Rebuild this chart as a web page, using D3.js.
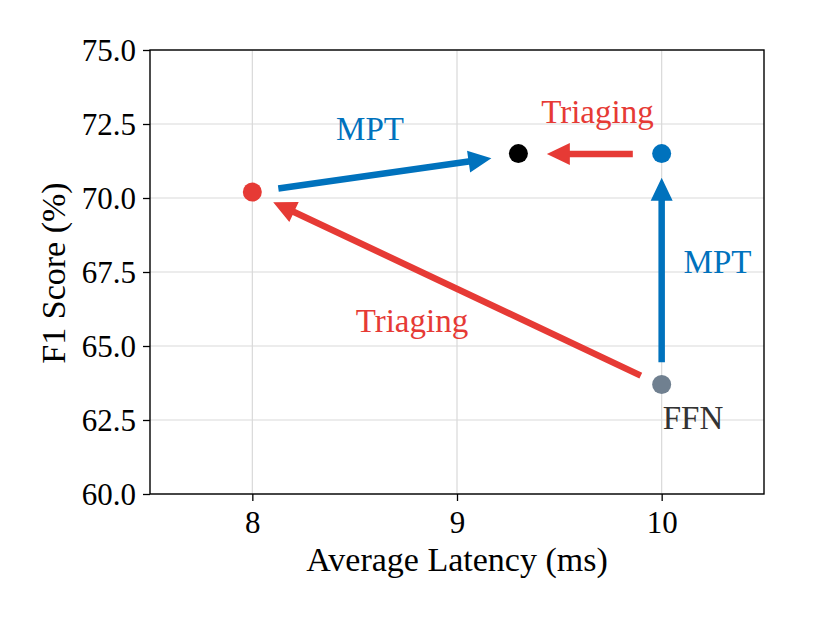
<!DOCTYPE html>
<html>
<head>
<meta charset="utf-8">
<script src="https://cdn.jsdelivr.net/npm/d3@7"></script>
<style>
html,body{margin:0;padding:0;background:#fff;}
svg text{font-family:"Liberation Serif","Times New Roman",serif !important;}
</style>
</head>
<body>
<svg id="chart" width="830" height="623"></svg>
<script>
// ---- data ----
const xTicks = [8, 9, 10];
const yTicks = [60.0, 62.5, 65.0, 67.5, 70.0, 72.5, 75.0];
const pointNames = ["FFN", "MPT", "Triaging", "Both"];
const pointX = [10.0, 10.0, 8.0, 9.3];
const pointY = [63.7, 71.5, 70.2, 71.5];
const pointColors = ["#708090", "#0072bd", "#e63a35", "#000000"];
// arrows
const arrowNames = ["MPT (Triaging)", "Triaging (MPT)", "MPT (FFN)", "Triaging (FFN)"];
const arrowFrom = [[8.127, 70.32], [9.859, 71.49], [10.0, 64.45], [9.898, 64.0]];
const arrowTo   = [[9.168, 71.34], [9.439, 71.49], [10.0, 70.68], [8.102, 69.86]];
const arrowColors = ["#0072bd", "#e63a35", "#0072bd", "#e63a35"];
const labelTexts = ["MPT", "Triaging", "MPT", "Triaging", "FFN"];
const labelX = [8.575, 9.686, 10.273, 8.78, 10.005];
const labelY = [71.96, 72.53, 67.48, 65.47, 62.2];
const labelColors = ["#0072bd", "#e63a35", "#0072bd", "#e63a35", "#333333"];
const labelAnchor = ["middle", "middle", "middle", "middle", "start"];

// ---- layout ----
const FONT = '"Liberation Serif", "Times New Roman", serif';
const svg = d3.select("#chart");
const L = 150, R = 764, T = 50, B = 494;
const x = d3.scaleLinear().domain([7.5, 10.5]).range([L, R]);
const y = d3.scaleLinear().domain([60, 75]).range([B, T]);

// grid
const g = svg.append("g");
g.selectAll(".gx").data(xTicks).enter().append("line")
  .attr("x1", d => x(d)).attr("x2", d => x(d)).attr("y1", T).attr("y2", B)
  .attr("stroke", "#d9d9d9").attr("stroke-width", 1.2);
g.selectAll(".gy").data(yTicks).enter().append("line")
  .attr("y1", d => y(d)).attr("y2", d => y(d)).attr("x1", L).attr("x2", R)
  .attr("stroke", "#d9d9d9").attr("stroke-width", 1.2);

// axes
const xAxis = d3.axisBottom(x).tickValues(xTicks).tickFormat(d3.format("d")).tickSizeInner(7).tickSizeOuter(0).tickPadding(9);
const yAxis = d3.axisLeft(y).tickValues(yTicks).tickFormat(d3.format(".1f")).tickSizeInner(7).tickSizeOuter(0).tickPadding(7);
const gx = svg.append("g").attr("transform", `translate(0,${B})`).call(xAxis);
const gy = svg.append("g").attr("transform", `translate(${L},0)`).call(yAxis);
[gx, gy].forEach(a => {
  a.attr("font-family", FONT);
  a.select(".domain").remove();
  a.selectAll(".tick line").attr("stroke", "#000").attr("stroke-width", 1.3);
  a.selectAll(".tick text").attr("font-size", 31).attr("fill", "#000").attr("font-family", FONT);
});
gy.selectAll(".tick text").attr("dy", "0.34em");
gx.selectAll(".tick text").attr("dy", "0.75em");

// frame
svg.append("rect").attr("x", L).attr("y", T).attr("width", R - L).attr("height", B - T)
  .attr("fill", "none").attr("stroke", "#000").attr("stroke-width", 1.4);

// axis labels
svg.append("text").attr("x", (L + R) / 2).attr("y", 571).attr("text-anchor", "middle")
  .attr("font-family", FONT).attr("font-size", 34).attr("fill", "#000").text("Average Latency (ms)");
svg.append("text").attr("transform", "translate(65,273) rotate(-90)").attr("text-anchor", "middle")
  .attr("font-family", FONT).attr("font-size", 34).attr("fill", "#000").text("F1 Score (%)");

// arrows (shaft + head polygon)
const shaftW = 6.5, headW = 22, headL = 23;
arrowFrom.forEach((f, i) => {
  const x1 = x(f[0]), y1 = y(f[1]), x2 = x(arrowTo[i][0]), y2 = y(arrowTo[i][1]);
  const dx = x2 - x1, dy = y2 - y1, len = Math.hypot(dx, dy);
  const ux = dx / len, uy = dy / len, nx = -uy, ny = ux;
  const bx = x2 - ux * headL, by = y2 - uy * headL;
  const sw = shaftW / 2, hw = headW / 2;
  const pts = [
    [x1 + nx * sw, y1 + ny * sw], [bx + nx * sw, by + ny * sw], [bx + nx * hw, by + ny * hw],
    [x2, y2],
    [bx - nx * hw, by - ny * hw], [bx - nx * sw, by - ny * sw], [x1 - nx * sw, y1 - ny * sw]
  ];
  svg.append("polygon").attr("points", pts.map(p => p.join(",")).join(" "))
    .attr("fill", arrowColors[i]);
});

// points
svg.selectAll(".pt").data(pointX).enter().append("circle")
  .attr("cx", d => x(d)).attr("cy", (d, i) => y(pointY[i])).attr("r", 9.5)
  .attr("fill", (d, i) => pointColors[i]);

// labels
svg.selectAll(".lbl").data(labelTexts).enter().append("text")
  .attr("x", (d, i) => x(labelX[i])).attr("y", (d, i) => y(labelY[i]))
  .attr("text-anchor", (d, i) => labelAnchor[i])
  .attr("font-family", FONT).attr("font-size", 33).attr("fill", (d, i) => labelColors[i]).text(d => d);
</script>
</body>
</html>
